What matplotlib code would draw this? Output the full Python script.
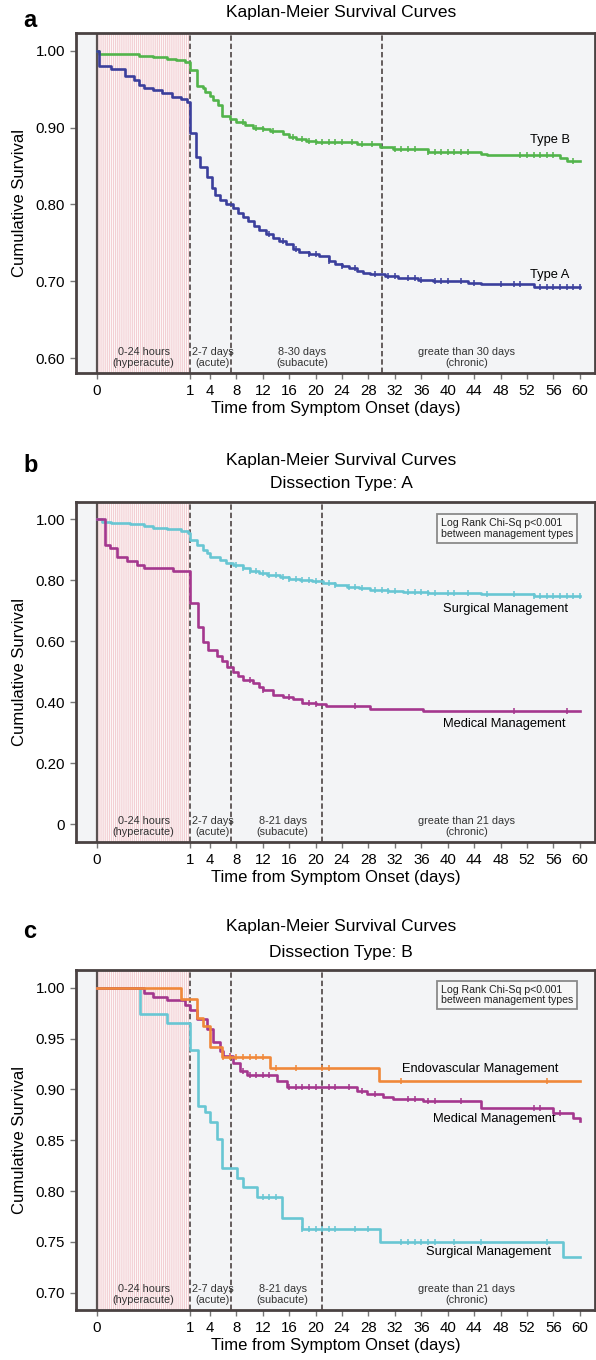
import numpy as np
import matplotlib
matplotlib.use("Agg")
import matplotlib.pyplot as plt

plt.rcParams.update({"font.family": ["Liberation Sans", "DejaVu Sans"], "font.size": 10,
                     "hatch.linewidth": 0.9})

# ---- data ----
ticks_x = [0, 1, 4, 8, 12, 16, 20, 24, 28, 32, 36, 40, 44, 48, 52, 56, 60]

# panel a: all patients by dissection type
typeB_t = [0, 0.02, 0.45, 0.6, 0.75, 0.85, 0.95, 1.0, 2.0, 3.0, 3.3, 4.0, 4.5, 5.2, 5.8, 7.0, 8.0,
           9.3, 10.5, 12.0, 13.1, 15.0, 16.0, 17.0, 18.5, 20.0, 26.3, 29.8, 31.7, 37.0, 45.0, 46.0,
           57.0, 58.0]
typeB_s = [1.0, 0.996, 0.994, 0.992, 0.990, 0.988, 0.986, 0.975, 0.955, 0.952, 0.947, 0.941, 0.936,
           0.930, 0.915, 0.912, 0.908, 0.904, 0.900, 0.898, 0.896, 0.892, 0.888, 0.885, 0.883, 0.882,
           0.879, 0.875, 0.872, 0.869, 0.866, 0.864, 0.860, 0.857]
typeB_cens = [9, 11, 12, 13.5, 16.5, 18, 19, 20, 21, 22, 23, 24, 25.5, 27, 28.5, 32, 33, 34, 35, 37,
              38, 39, 40, 41, 42, 43, 51, 52, 53, 54, 55, 56, 59]
typeA_t = [0, 0.02, 0.15, 0.3, 0.4, 0.45, 0.5, 0.6, 0.7, 0.8, 0.9, 0.97, 1.0, 1.9, 2.5, 3.6, 4.3,
           4.8, 5.5, 6.5, 7.5, 8.3, 9.0, 9.8, 10.6, 11.5, 12.5, 13.5, 14.5, 15.5, 16.5, 17.5, 19.0,
           20.5, 22.0, 23.0, 24.0, 25.0, 26.3, 27.2, 28.2, 30.5, 32.5, 35.5, 37.8, 43.0, 45.0, 53.0]
typeA_s = [1.0, 0.981, 0.976, 0.968, 0.962, 0.956, 0.952, 0.949, 0.945, 0.940, 0.937, 0.933, 0.893,
           0.862, 0.849, 0.836, 0.822, 0.812, 0.806, 0.800, 0.795, 0.789, 0.784, 0.778, 0.772, 0.767,
           0.762, 0.757, 0.752, 0.748, 0.742, 0.738, 0.736, 0.733, 0.727, 0.723, 0.720, 0.717, 0.714,
           0.711, 0.709, 0.707, 0.704, 0.702, 0.700, 0.698, 0.696, 0.692]
typeA_cens = [13, 15, 17, 19, 20, 22, 24, 26, 29, 31, 32, 34, 35, 36, 38, 39, 40, 42, 44, 48, 50,
              51, 54, 55, 56, 57, 58, 59, 60]

# panel b: type A by management
bSurg_t = [0, 0.05, 0.15, 0.35, 0.5, 0.6, 0.75, 0.9, 0.98, 1.0, 2.0, 3.0, 3.5, 4.0, 5.5, 6.5, 7.5,
           9.0, 10.0, 11.5, 12.6, 14.6, 16.0, 17.6, 19.5, 21.1, 23.0, 24.8, 26.5, 28.2, 31.0, 33.2,
           37.0, 40.0, 45.0, 53.0]
bSurg_s = [1.0, 0.991, 0.988, 0.984, 0.976, 0.972, 0.966, 0.960, 0.955, 0.931, 0.915, 0.898, 0.888,
           0.876, 0.866, 0.857, 0.849, 0.838, 0.830, 0.822, 0.816, 0.810, 0.805, 0.800, 0.796, 0.792,
           0.785, 0.778, 0.773, 0.769, 0.765, 0.762, 0.759, 0.756, 0.753, 0.748]
bSurg_cens = [8, 9, 10, 11, 12, 13, 14, 15, 16, 17, 18, 19, 20, 22, 23, 25, 26, 27, 29, 30, 31, 32,
              34, 35, 36, 37, 38, 40, 41, 43, 46, 50, 53, 54, 55, 56, 57, 58, 59, 60]
bMed_t = [0, 0.09, 0.14, 0.21, 0.32, 0.43, 0.5, 0.6, 0.82, 1.0, 2.2, 3.0, 3.7, 5.0, 5.8, 6.6, 7.5,
          8.3, 9.0, 10.5, 11.5, 12.0, 13.6, 15.0, 16.6, 18.0, 20.0, 21.5, 28.2, 36.2]
bMed_s = [1.0, 0.915, 0.904, 0.876, 0.862, 0.849, 0.841, 0.838, 0.830, 0.724, 0.647, 0.598, 0.570,
          0.550, 0.535, 0.516, 0.500, 0.485, 0.472, 0.461, 0.450, 0.439, 0.423, 0.415, 0.410, 0.398,
          0.392, 0.386, 0.377, 0.370]
bMed_cens = [10, 12, 16, 19, 20, 26, 50, 58]

# panel c: type B by management
cEndo_t = [0, 0.9, 2.0, 3.0, 4.0, 5.8, 13.1, 29.6]
cEndo_s = [1.0, 0.989, 0.970, 0.962, 0.942, 0.932, 0.921, 0.908]
cEndo_cens = [6, 7, 8, 9, 10, 11, 12, 14, 17, 21, 22, 33, 55]
cMed_t = [0, 0.5, 0.6, 0.75, 0.95, 1.0, 2.0, 3.6, 4.5, 5.5, 6.0, 7.5, 8.6, 9.6, 14.2, 15.7, 26.3,
          27.8, 30.2, 31.7, 36.2, 45.0, 55.9, 58.9, 60.0]
cMed_s = [1.0, 0.995, 0.991, 0.988, 0.983, 0.978, 0.969, 0.960, 0.947, 0.938, 0.933, 0.926, 0.918,
          0.914, 0.908, 0.902, 0.899, 0.896, 0.893, 0.891, 0.889, 0.882, 0.877, 0.872, 0.869]
cMed_cens = [7, 9, 10, 11, 12, 13, 16, 17, 18, 19, 20, 22, 23, 25, 27, 29, 34, 35, 37, 38, 42, 53,
             54, 57]
cSurg_t = [0, 0.46, 0.75, 1.0, 2.2, 3.3, 4.0, 5.1, 5.8, 8.1, 9.0, 11.1, 14.9, 17.9, 29.7, 57.4]
cSurg_s = [1.0, 0.974, 0.965, 0.939, 0.884, 0.878, 0.868, 0.851, 0.823, 0.813, 0.804, 0.794, 0.774,
           0.763, 0.750, 0.735]
cSurg_cens = [12, 13, 14, 18, 19, 20, 21, 22, 23, 26, 28, 33, 34, 35, 36, 37, 38, 41, 45, 55]

GREEN, BLUE = "#52b44b", "#3b3f9c"
CYAN, MAG, ORANGE = "#68c6d3", "#a4378e", "#f0883a"
FRAME, DASH = "#4a4242", "#5a5252"

# the first day (hyperacute) is stretched to the width of ~14 days
W = 14.1
def fwd(x):
    x = np.asarray(x, float)
    return np.where(x < 1, x * W, W + x - 1)
def inv(u):
    u = np.asarray(u, float)
    return np.where(u < W, u / W, u - W + 1)

fig = plt.figure(figsize=(5.96, 13.6), dpi=100)
def fy(py): return 1 - py / 1360.

def km(ax, t, s, cens, color):
    t = np.append(t, 60.0); s = np.append(s, s[-1])
    ax.step(t, s, where="post", color=color, lw=1.9, zorder=4)
    cens = np.asarray(cens, float)
    cs = s[np.searchsorted(t, cens, side="right") - 1]
    ax.plot(cens, cs, ls="none", marker="|", ms=4, mew=1.1, color=color, zorder=4)

def panel(top, ylim, yticks, ylabels, cuts, periods):
    ax = fig.add_axes([76/596, fy(top + 340), 519/596, 340/1360])
    ax.set_xscale("function", functions=(fwd, inv))
    ax.set_xlim(-3.18/W, 62.3)
    ax.set_ylim(*ylim)
    ax.set_facecolor("#f3f4f6")
    ax.axvspan(0, 1, facecolor="white", edgecolor="#f3d0d4", hatch="||||||||", lw=0, zorder=0.5)
    ax.axvline(0, color=DASH, lw=1.6, zorder=2)
    for c in cuts:
        ax.axvline(c, color=DASH, lw=1.3, ls=(0, (3, 1.6)), zorder=2)
    for xx, lab in periods:
        ax.text(xx, 0.045, lab, transform=ax.get_xaxis_transform(), ha="center", va="center",
                fontsize=7.8, color="#333333", linespacing=1.1, zorder=3)
    ax.set_xticks(ticks_x)
    ax.set_xticklabels([str(v) for v in ticks_x])
    ax.set_yticks(yticks)
    ax.set_yticklabels(ylabels)
    ax.tick_params(axis="both", labelsize=10.8, length=4, width=1.0, color="#777777", pad=4)
    for sp in ax.spines.values():
        sp.set_color(FRAME); sp.set_linewidth(2.0)
    ax.set_xlabel("Time from Symptom Onset (days)", fontsize=12, labelpad=2)
    ax.set_ylabel("Cumulative Survival", fontsize=12, labelpad=6)
    return ax

def logrank(ax, x, y):
    ax.text(x, y, "Log Rank Chi-Sq p<0.001\nbetween management types", ha="left", va="center",
            fontsize=7.6, linespacing=1.1, color="#222222", zorder=5,
            bbox=dict(boxstyle="square,pad=0.35", facecolor="#f7f7f7", edgecolor="#8a8a8a", lw=1.3))

# ---- a ----
axA = panel(33, (0.5805, 1.0234), [0.6, 0.7, 0.8, 0.9, 1.0], ["0.60", "0.70", "0.80", "0.90", "1.00"],
            [1, 7.2, 30], [(0.5, "0-24 hours\n(hyperacute)"), (4.4, "2-7 days\n(acute)"),
                           (18, "8-30 days\n(subacute)"), (42.9, "greate than 30 days\n(chronic)")])
km(axA, typeB_t, typeB_s, typeB_cens, GREEN)
km(axA, typeA_t, typeA_s, typeA_cens, BLUE)
axA.text(55.5, 0.884, "Type B", ha="center", va="center", fontsize=9.3)
axA.text(55.5, 0.708, "Type A", ha="center", va="center", fontsize=9.3)
fig.text(23/596, fy(27), "a", fontsize=17, fontweight="bold", va="baseline")
fig.text(341/596, fy(12), "Kaplan-Meier Survival Curves", fontsize=12.5, ha="center", va="center")

# ---- b ----
axB = panel(502, (-0.059, 1.056), [0, 0.2, 0.4, 0.6, 0.8, 1.0], ["0", "0.20", "0.40", "0.60", "0.80", "1.00"],
            [1, 7.2, 21], [(0.5, "0-24 hours\n(hyperacute)"), (4.4, "2-7 days\n(acute)"),
                           (15, "8-21 days\n(subacute)"), (42.9, "greate than 21 days\n(chronic)")])
km(axB, bSurg_t, bSurg_s, bSurg_cens, CYAN)
km(axB, bMed_t, bMed_s, bMed_cens, MAG)
axB.text(48.7, 0.705, "Surgical Management", ha="center", va="center", fontsize=9.3)
axB.text(48.5, 0.328, "Medical Management", ha="center", va="center", fontsize=9.3)
logrank(axB, 39.0, 0.969)
fig.text(23/596, fy(472), "b", fontsize=17, fontweight="bold", va="baseline")
fig.text(341/596, fy(460), "Kaplan-Meier Survival Curves", fontsize=12.5, ha="center", va="center")
fig.text(341/596, fy(483), "Dissection Type: A", fontsize=12.5, ha="center", va="center")

# ---- c ----
axC = panel(970, (0.683, 1.0176), [0.70, 0.75, 0.80, 0.85, 0.90, 0.95, 1.00],
            ["0.70", "0.75", "0.80", "0.85", "0.90", "0.95", "1.00"],
            [1, 7.2, 21], [(0.5, "0-24 hours\n(hyperacute)"), (4.4, "2-7 days\n(acute)"),
                           (15, "8-21 days\n(subacute)"), (42.9, "greate than 21 days\n(chronic)")])
km(axC, cSurg_t, cSurg_s, cSurg_cens, CYAN)
km(axC, cMed_t, cMed_s, cMed_cens, MAG)
km(axC, cEndo_t, cEndo_s, cEndo_cens, ORANGE)
axC.text(44.9, 0.9206, "Endovascular Management", ha="center", va="center", fontsize=9.3)
axC.text(47.0, 0.8706, "Medical Management", ha="center", va="center", fontsize=9.3)
axC.text(46.1, 0.740, "Surgical Management", ha="center", va="center", fontsize=9.3)
logrank(axC, 39.0, 0.993)
fig.text(23/596, fy(938), "c", fontsize=17, fontweight="bold", va="baseline")
fig.text(341/596, fy(926), "Kaplan-Meier Survival Curves", fontsize=12.5, ha="center", va="center")
fig.text(341/596, fy(952), "Dissection Type: B", fontsize=12.5, ha="center", va="center")

fig.savefig("out.png", dpi=100)
